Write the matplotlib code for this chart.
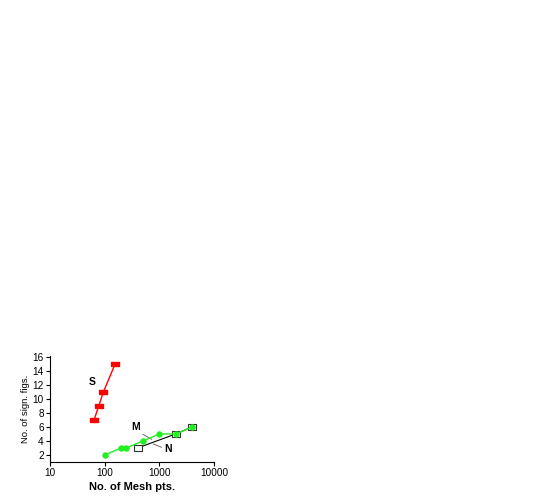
import matplotlib
matplotlib.use("Agg")
import matplotlib.pyplot as plt
from matplotlib.ticker import FixedLocator, NullLocator

plt.rcParams['font.family'] = ['Liberation Sans', 'DejaVu Sans']

s_x = [64, 78, 95, 156]
s_y = [7, 9, 11, 15]
m_x = [100, 200, 250, 500, 1000, 2000, 4000]
m_y = [2, 3, 3, 4, 5, 5, 6]
n_x = [400, 2000, 4000]
n_y = [3, 5, 6]
xticks = [10, 100, 1000, 10000]
yticks = [2, 4, 6, 8, 10, 12, 14, 16]

fig = plt.figure(figsize=(5.47, 4.99), dpi=100)
ax = fig.add_axes([0.0914, 0.0741, 0.2998, 0.2125])

rect = [(-1, -0.66), (1, -0.66), (1, 0.66), (-1, 0.66), (-1, -0.66)]
orect = [(-1, -0.75), (1, -0.75), (1, 0.75), (-1, 0.75), (-1, -0.75)]

ax.plot(s_x, s_y, color='red', lw=1, marker=rect, ms=5.4,
        mfc='red', mec='red', zorder=3)
ax.plot(n_x, n_y, color='black', lw=0.8, marker=orect, ms=5.6,
        mfc='white', mec='#333333', mew=0.8, zorder=2)
ax.plot(m_x, m_y, color='#22ee22', lw=1, marker='o', ms=3.6,
        mfc='#22ee22', mec='#22ee22', zorder=4)

ax.set_xscale('log')
ax.set_xlim(10, 10000)
ax.set_ylim(1, 16.1)
ax.xaxis.set_major_locator(FixedLocator(xticks))
ax.xaxis.set_minor_locator(NullLocator())
ax.set_xticklabels([str(v) for v in xticks])
ax.set_yticks(yticks)
ax.tick_params(direction='out', length=3, width=0.8, labelsize=7.2, pad=1.5)
for sp in ['top', 'right']:
    ax.spines[sp].set_visible(False)
for sp in ['left', 'bottom']:
    ax.spines[sp].set_linewidth(0.8)

ax.set_xlabel('No. of Mesh pts.', fontsize=8, fontweight='bold', labelpad=3)
ax.set_ylabel('No. of sign. figs.', fontsize=6.8, labelpad=2)

ax.text(58, 12.4, 'S', fontsize=7.5, fontweight='bold', ha='center', va='center')
ax.text(373, 6.04, 'M', fontsize=7.5, fontweight='bold', ha='center', va='center')
ax.plot([500, 725], [4.94, 4.23], color='#555555', lw=0.6)
ax.text(1436, 2.86, 'N', fontsize=7.5, fontweight='bold', ha='center', va='center')
ax.plot([775, 1100], [3.57, 3.1], color='#555555', lw=0.6)

fig.savefig('out.png', dpi=100)
